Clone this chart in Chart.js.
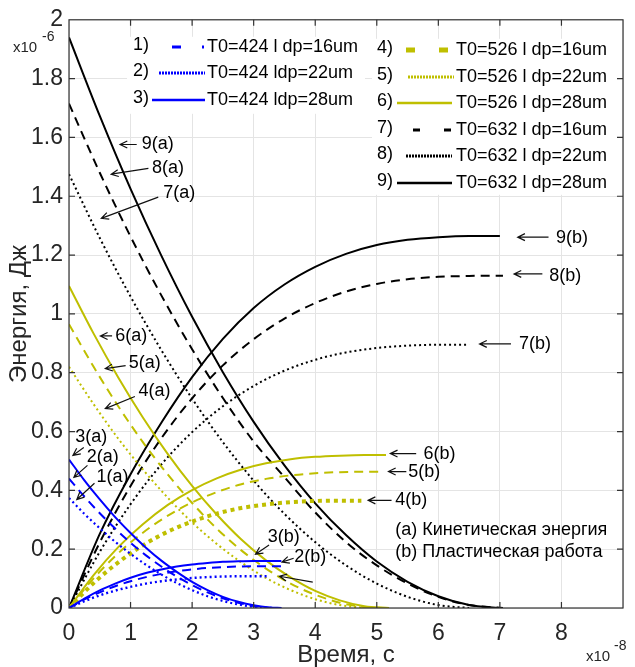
<!DOCTYPE html>
<html>
<head>
<meta charset="utf-8">
<script src="https://cdn.jsdelivr.net/npm/chart.js@4.4.1/dist/chart.umd.min.js"></script>
<style>
  html, body { margin: 0; padding: 0; background: #fff; }
  #wrap { width: 635px; height: 667px; }
</style>
</head>
<body>
<div id="wrap"><canvas id="c" width="635" height="667"></canvas></div>
<script>
// time values are in units of 1e-8 s, energies in units of 1e-6 J
// T0=424 (blue)
const t1a = [0, 0.25, 0.5, 0.75, 1, 1.25, 1.5, 1.75, 2, 2.25, 2.5, 2.75, 3, 3.25, 3.35];
const e1a = [0.374, 0.320, 0.271, 0.225, 0.184, 0.147, 0.114, 0.085, 0.061, 0.040, 0.024, 0.012, 0.004, 0.0003, 0];
const t1b = [0, 0.25, 0.5, 0.75, 1, 1.25, 1.5, 1.75, 2, 2.25, 2.5, 2.75, 3, 3.25];
const w1b = [0, 0.023, 0.043, 0.059, 0.072, 0.083, 0.091, 0.097, 0.102, 0.105, 0.107, 0.108, 0.108, 0.108];
const tBlue = [0, 0.25, 0.5, 0.75, 1, 1.25, 1.5, 1.75, 2, 2.25, 2.5, 2.75, 3, 3.25, 3.45];
const e2a = [0.44, 0.379, 0.322, 0.270, 0.222, 0.179, 0.141, 0.107, 0.078, 0.053, 0.033, 0.018, 0.007, 0.001, 0];
const w2b = [0, 0.029, 0.053, 0.074, 0.091, 0.105, 0.116, 0.125, 0.131, 0.136, 0.139, 0.141, 0.142, 0.142, 0.142];
const e3a = [0.505, 0.434, 0.369, 0.309, 0.255, 0.205, 0.161, 0.123, 0.089, 0.061, 0.038, 0.021, 0.009, 0.002, 0];
const w3b = [0, 0.032, 0.060, 0.083, 0.103, 0.119, 0.131, 0.141, 0.148, 0.153, 0.157, 0.159, 0.160, 0.160, 0.160];

// T0=526 (yellow)
const t4a = [0, 0.4, 0.8, 1.2, 1.6, 2.0, 2.4, 2.8, 3.2, 3.6, 4.0, 4.4, 4.8, 4.95];
const e4a = [0.82, 0.693, 0.576, 0.471, 0.376, 0.291, 0.218, 0.155, 0.102, 0.061, 0.030, 0.010, 0.001, 0];
const t4b = [0, 0.4, 0.8, 1.2, 1.6, 2.0, 2.4, 2.8, 3.2, 3.6, 4.0, 4.4, 4.75];
const w4b = [0, 0.085, 0.155, 0.213, 0.259, 0.294, 0.321, 0.340, 0.352, 0.360, 0.364, 0.365, 0.365];
const t5 = [0, 0.4, 0.8, 1.2, 1.6, 2.0, 2.4, 2.8, 3.2, 3.6, 4.0, 4.4, 4.8, 5.1];
const e5a = [0.965, 0.820, 0.686, 0.564, 0.455, 0.357, 0.270, 0.196, 0.134, 0.083, 0.045, 0.018, 0.003, 0];
const w5b = [0, 0.101, 0.186, 0.256, 0.313, 0.359, 0.394, 0.421, 0.439, 0.451, 0.458, 0.462, 0.463, 0.463];
const t6a = [0, 0.4, 0.8, 1.2, 1.6, 2.0, 2.4, 2.8, 3.2, 3.6, 4.0, 4.4, 4.8, 5.2];
const e6a = [1.095, 0.933, 0.784, 0.648, 0.525, 0.415, 0.318, 0.233, 0.162, 0.104, 0.058, 0.026, 0.006, 0];
const t6b = [0, 0.4, 0.8, 1.2, 1.6, 2.0, 2.4, 2.8, 3.2, 3.6, 4.0, 4.4, 4.8, 5.15];
const w6b = [0, 0.112, 0.207, 0.285, 0.350, 0.401, 0.441, 0.471, 0.492, 0.506, 0.514, 0.518, 0.520, 0.520];

// T0=632 (black)
const t7 = [0, 0.5, 1, 1.5, 2, 2.5, 3, 3.5, 4, 4.5, 5, 5.5, 6, 6.5];
const e7a = [1.475, 1.258, 1.059, 0.877, 0.712, 0.564, 0.433, 0.320, 0.224, 0.145, 0.083, 0.038, 0.010, 0];
const w7b = [0, 0.191, 0.353, 0.488, 0.598, 0.686, 0.755, 0.807, 0.844, 0.869, 0.884, 0.892, 0.895, 0.895];
const t8 = [0, 0.5, 1, 1.5, 2, 2.5, 3, 3.5, 4, 4.5, 5, 5.5, 6, 6.5, 7.05];
const e8a = [1.715, 1.480, 1.263, 1.063, 0.880, 0.714, 0.566, 0.445, 0.325, 0.224, 0.145, 0.083, 0.038, 0.010, 0];
const w8b = [0, 0.223, 0.415, 0.577, 0.713, 0.825, 0.914, 0.984, 1.037, 1.076, 1.102, 1.118, 1.126, 1.129, 1.130];
const t9 = [0, 0.5, 1, 1.5, 2, 2.5, 3, 3.5, 4, 4.5, 5, 5.5, 6, 6.5, 7];
const e9a = [1.94, 1.673, 1.425, 1.198, 0.990, 0.802, 0.633, 0.485, 0.356, 0.248, 0.158, 0.089, 0.040, 0.010, 0];
const w9b = [0, 0.252, 0.455, 0.630, 0.785, 0.915, 1.020, 1.100, 1.160, 1.204, 1.234, 1.252, 1.261, 1.265, 1.265];

const legendNames = [
  "T0=424 l dp=16um", "T0=424 ldp=22um", "T0=424 ldp=28um",
  "T0=526 l dp=16um", "T0=526 l dp=22um", "T0=526 l dp=28um",
  "T0=632 l dp=16um", "T0=632 l dp=22um", "T0=632 l dp=28um"
];

// arrow notes: label, text anchor [t, E], arrow tail, arrow tip
const notes = [
  ["9(a)", [1.18, 1.576], [1.10, 1.576], [0.83, 1.576]],
  ["8(a)", [1.35, 1.495], [1.29, 1.495], [0.685, 1.475]],
  ["7(a)", [1.53, 1.41], [1.45, 1.397], [0.525, 1.325]],
  ["6(a)", [0.75, 0.925], [0.70, 0.925], [0.51, 0.925]],
  ["5(a)", [0.97, 0.834], [0.92, 0.824], [0.59, 0.814]],
  ["4(a)", [1.13, 0.739], [1.07, 0.719], [0.59, 0.678]],
  ["3(a)", [0.10, 0.58], [0.24, 0.546], [0.064, 0.519]],
  ["2(a)", [0.29, 0.512], [0.30, 0.485], [0.08, 0.444]],
  ["1(a)", [0.446, 0.444], [0.414, 0.424], [0.127, 0.369]],
  ["3(b)", [3.23, 0.241], [3.25, 0.214], [3.03, 0.183]],
  ["2(b)", [3.66, 0.173], [3.65, 0.169], [3.46, 0.156]],
  ["", [3.96, 0.088], [3.96, 0.088], [3.42, 0.108]],
  ["4(b)", [5.30, 0.366], [5.24, 0.366], [4.86, 0.366]],
  ["5(b)", [5.51, 0.464], [5.48, 0.464], [5.19, 0.464]],
  ["6(b)", [5.76, 0.525], [5.64, 0.525], [5.22, 0.525]],
  ["7(b)", [7.31, 0.898], [7.18, 0.898], [6.67, 0.898]],
  ["8(b)", [7.80, 1.129], [7.69, 1.136], [7.23, 1.136]],
  ["9(b)", [7.91, 1.258], [7.79, 1.261], [7.29, 1.261]]
];

const BLUE = "#0000ff";
const YEL = "#bfbf00";
const BLK = "#000000";
const FONT = "'Liberation Sans', Arial, sans-serif";

const pts = (ts, vs) => ts.map((t, i) => ({ x: t, y: vs[i] }));

function line(ts, vs, color, dash, width) {
  return {
    data: pts(ts, vs),
    borderColor: color,
    borderWidth: width || 2,
    borderDash: dash || [],
    pointRadius: 0,
    fill: false,
    cubicInterpolationMode: "monotone"
  };
}

const DOT = [2, 3];
const DASH = [9, 6];

const datasets = [
  line(t1a, e1a, BLUE, DOT, 2.2),
  line(t1b, w1b, BLUE, DOT, 2.4),
  line(tBlue, e2a, BLUE, DASH),
  line(tBlue, w2b, BLUE, DASH),
  line(tBlue, e3a, BLUE),
  line(tBlue, w3b, BLUE),
  line(t4a, e4a, YEL, DOT, 2),
  line(t4b, w4b, YEL, [4, 4], 4),
  line(t5, e5a, YEL, DASH),
  line(t5, w5b, YEL, DASH),
  line(t6a, e6a, YEL),
  line(t6b, w6b, YEL),
  line(t7, e7a, BLK, DOT, 2),
  line(t7, w7b, BLK, DOT, 2),
  line(t8, e8a, BLK, DASH),
  line(t8, w8b, BLK, DASH),
  line(t9, e9a, BLK),
  line(t9, w9b, BLK)
];

function arrow(ctx, x0, y0, x1, y1) {
  const a = Math.atan2(y1 - y0, x1 - x0);
  const L = 8, s = 0.45;
  ctx.beginPath();
  ctx.moveTo(x0, y0);
  ctx.lineTo(x1, y1);
  ctx.moveTo(x1 - L * Math.cos(a - s), y1 - L * Math.sin(a - s));
  ctx.lineTo(x1, y1);
  ctx.lineTo(x1 - L * Math.cos(a + s), y1 - L * Math.sin(a + s));
  ctx.stroke();
}

const overlay = {
  id: "overlay",
  afterDatasetsDraw(chart) {
    const ctx = chart.ctx;
    const a = chart.chartArea;
    const xs = chart.scales.x, ys = chart.scales.y;
    ctx.save();

    // box and inward ticks
    ctx.strokeStyle = "#333";
    ctx.lineWidth = 1.2;
    ctx.strokeRect(a.left, a.top, a.right - a.left, a.bottom - a.top);
    ctx.beginPath();
    for (let v = 1; v <= 8; v++) {
      const px = xs.getPixelForValue(v);
      ctx.moveTo(px, a.bottom); ctx.lineTo(px, a.bottom - 6);
      ctx.moveTo(px, a.top); ctx.lineTo(px, a.top + 6);
    }
    for (let k = 1; k < 10; k++) {
      const py = ys.getPixelForValue(k * 0.2);
      ctx.moveTo(a.left, py); ctx.lineTo(a.left + 6, py);
      ctx.moveTo(a.right, py); ctx.lineTo(a.right - 6, py);
    }
    ctx.stroke();

    // legend
    ctx.fillStyle = "#fff";
    ctx.fillRect(a.left + 58, a.top + 17, 238, 77);
    ctx.fillRect(a.left + 303, a.top + 19, 245, 156);
    const styles = [
      { c: BLUE, w: 3, d: [9, 21, 2, 60], x0: 172, x1: 206 },
      { c: BLUE, w: 3, d: [2, 1], x0: 159, x1: 205 },
      { c: BLUE, w: 2.5, d: [], x0: 152, x1: 205 },
      { c: YEL, w: 5, d: [9, 24], x0: 406, x1: 448 },
      { c: YEL, w: 3, d: [2, 1], x0: 408, x1: 454 },
      { c: YEL, w: 2.5, d: [], x0: 397, x1: 452 },
      { c: BLK, w: 3, d: [7, 24], x0: 413, x1: 452 },
      { c: BLK, w: 3, d: [2, 1], x0: 406, x1: 452 },
      { c: BLK, w: 2.5, d: [], x0: 397, x1: 452 }
    ];
    const rows = [47, 73, 100, 50, 77, 103, 130, 156, 183];
    ctx.font = "18px " + FONT;
    ctx.textBaseline = "middle";
    ctx.textAlign = "left";
    legendNames.forEach((name, i) => {
      const s = styles[i];
      const y = rows[i];
      const numX = i < 3 ? 133 : 377;
      const txtX = i < 3 ? 207 : 456;
      ctx.fillStyle = "#000";
      ctx.fillText((i + 1) + ")", numX, y - 2);
      ctx.fillText(name, txtX, y);
      ctx.strokeStyle = s.c;
      ctx.lineWidth = s.w;
      ctx.setLineDash(s.d);
      ctx.beginPath();
      ctx.moveTo(s.x0, y);
      ctx.lineTo(s.x1, y);
      ctx.stroke();
    });
    ctx.setLineDash([]);

    // arrow notes
    ctx.strokeStyle = "#111";
    ctx.lineWidth = 1.2;
    ctx.fillStyle = "#000";
    notes.forEach(([label, txt, tail, tip]) => {
      arrow(ctx, xs.getPixelForValue(tail[0]), ys.getPixelForValue(tail[1]),
        xs.getPixelForValue(tip[0]), ys.getPixelForValue(tip[1]));
      if (label) ctx.fillText(label, xs.getPixelForValue(txt[0]), ys.getPixelForValue(txt[1]));
    });
    ctx.fillText("(a) Кинетическая энергия", xs.getPixelForValue(5.30), ys.getPixelForValue(0.264));
    ctx.fillText("(b) Пластическая работа", xs.getPixelForValue(5.30), ys.getPixelForValue(0.19));

    // axis titles and exponents
    ctx.fillStyle = "#262626";
    ctx.font = "24px " + FONT;
    ctx.textAlign = "center";
    ctx.fillText("Время, с", (a.left + a.right) / 2, 655);
    ctx.save();
    ctx.translate(19, (a.top + a.bottom) / 2);
    ctx.rotate(-Math.PI / 2);
    ctx.fillText("Энергия, Дж", 0, 0);
    ctx.restore();
    ctx.textAlign = "left";
    ctx.font = "15px " + FONT;
    ctx.fillText("x10", 13, 48);
    ctx.fillText("x10", 586, 657);
    ctx.font = "14px " + FONT;
    ctx.fillText("-6", 42, 37);
    ctx.fillText("-8", 614, 646);
    ctx.restore();
  }
};

new Chart(document.getElementById("c"), {
  type: "line",
  data: { datasets },
  plugins: [overlay],
  options: {
    responsive: false,
    animation: false,
    layout: { padding: { top: 18, right: 1, left: 0, bottom: 0 } },
    plugins: { legend: { display: false }, tooltip: { enabled: false } },
    scales: {
      x: {
        type: "linear",
        min: 0,
        max: 9,
        afterFit: (s) => { s.height = 59; },
        grid: { color: "#e4e4e4", drawTicks: false, lineWidth: 1 },
        border: { display: false },
        ticks: {
          stepSize: 1,
          autoSkip: false,
          maxRotation: 0,
          padding: 12,
          color: "#262626",
          font: { family: FONT, size: 23 },
          callback: (v) => (v === 9 ? "" : String(v))
        }
      },
      y: {
        min: 0,
        max: 2,
        afterFit: (s) => { s.width = 69; },
        grid: { color: "#e4e4e4", drawTicks: false, lineWidth: 1 },
        border: { display: false },
        ticks: {
          stepSize: 0.2,
          padding: 6,
          color: "#262626",
          font: { family: FONT, size: 23 },
          callback: (v) => String(+v.toFixed(1))
        }
      }
    }
  }
});
</script>
</body>
</html>
